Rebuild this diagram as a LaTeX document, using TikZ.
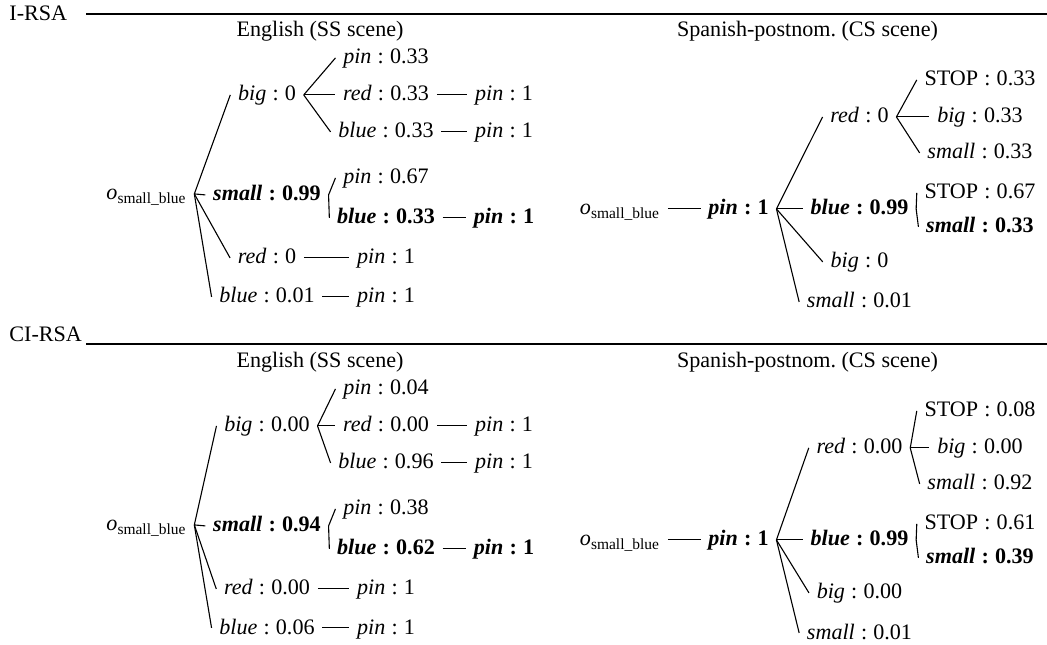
\documentclass[tikz,border=0pt]{standalone}
\usepackage{fontspec}
\setmainfont{Liberation Serif}
\newcommand\lab[2]{\textit{#1}\hspace{.28em}:\hspace{.28em}#2}
\newcommand\blab[2]{\textbf{\textit{#1}\hspace{.28em}:\hspace{.28em}#2}}
\newcommand\slab[1]{STOP\hspace{.28em}:\hspace{.28em}#1}
\newcommand\osb{\textit{o}\textsubscript{small\_blue}}
\begin{document}
\begin{tikzpicture}[x=0.4525pt,y=-0.4525pt,
  lbl/.style={anchor=base,inner sep=0.3333em,text height=0.75em,text depth=0.2em},
  conn/.style={line width=0.5pt},
  rulel/.style={line width=0.5pt}]
\useasboundingbox (0,0) rectangle (1047,645);

% ---------- section labels and rules ----------
\node[anchor=base west,inner sep=0] (irsa) at (9,21) {I-RSA};
\coordinate (ra1) at (86,14);
\coordinate (rb1) at (1047,14);
\draw[rulel] (ra1) -- (rb1);
\node[anchor=base west,inner sep=0] (cirsa) at (9,342) {CI-RSA};
\coordinate (ra2) at (86,344);
\coordinate (rb2) at (1047,344);
\draw[rulel] (ra2) -- (rb2);

% ================= I-RSA =================
\node[lbl] (aeh) at (320,37) {English (SS scene)};
\node[lbl] (ash) at (807.5,37) {Spanish-postnom.\ (CS scene)};

% English tree
\node[lbl] (ar) at (146.5,200) {\osb};
\node[lbl] (abig) at (267,101) {\lab{big}{0}};
\node[lbl] (apinA) at (386,64) {\lab{pin}{0.33}};
\node[lbl] (aredA) at (386,101) {\lab{red}{0.33}};
\node[lbl] (ablueA) at (386,138) {\lab{blue}{0.33}};
\node[lbl] (apinB) at (504,101) {\lab{pin}{1}};
\node[lbl] (apinC) at (504,138) {\lab{pin}{1}};
\node[lbl] (asmall) at (267,201) {\blab{small}{0.99}};
\node[lbl] (apinD) at (386,184) {\lab{pin}{0.67}};
\node[lbl] (ablueB) at (386,224) {\blab{blue}{0.33}};
\node[lbl] (apinE) at (504,224) {\blab{pin}{1}};
\node[lbl] (ared) at (267,264) {\lab{red}{0}};
\node[lbl] (apinF) at (386,264) {\lab{pin}{1}};
\node[lbl] (ablue) at (267,303) {\lab{blue}{0.01}};
\node[lbl] (apinG) at (386,303) {\lab{pin}{1}};
\foreach \p/\c in {ar/abig,ar/asmall,ar/ared,ar/ablue,abig/apinA,abig/aredA,abig/ablueA,
  aredA/apinB,ablueA/apinC,asmall/apinD,asmall/ablueB,ablueB/apinE,ared/apinF,ablue/apinG}
  \draw[conn] (\p.east) -- (\c.west);

% Spanish tree
\node[lbl] (asr) at (620,215) {\osb};
\node[lbl] (aspin) at (738.5,215) {\blab{pin}{1}};
\node[lbl] (asred) at (859.5,123) {\lab{red}{0}};
\node[lbl] (asstopA) at (980,86) {\slab{0.33}};
\node[lbl] (asbigA) at (980,123) {\lab{big}{0.33}};
\node[lbl] (assmallA) at (980,159) {\lab{small}{0.33}};
\node[lbl] (asblue) at (859.5,215) {\blab{blue}{0.99}};
\node[lbl] (asstopB) at (980,199) {\slab{0.67}};
\node[lbl] (assmallB) at (980,233) {\blab{small}{0.33}};
\node[lbl] (asbig) at (859.5,268) {\lab{big}{0}};
\node[lbl] (assmall) at (859.5,308) {\lab{small}{0.01}};
\foreach \p/\c in {asr/aspin,aspin/asred,aspin/asblue,aspin/asbig,aspin/assmall,
  asred/asstopA,asred/asbigA,asred/assmallA,asblue/asstopB,asblue/assmallB}
  \draw[conn] (\p.east) -- (\c.west);

% ================= CI-RSA =================
\begin{scope}[shift={(0,331)}]
\node[lbl] (beh) at (320,37) {English (SS scene)};
\node[lbl] (bsh) at (807.5,37) {Spanish-postnom.\ (CS scene)};

\node[lbl] (br) at (146.5,200) {\osb};
\node[lbl] (bbig) at (267,101) {\lab{big}{0.00}};
\node[lbl] (bpinA) at (386,64) {\lab{pin}{0.04}};
\node[lbl] (bredA) at (386,101) {\lab{red}{0.00}};
\node[lbl] (bblueA) at (386,138) {\lab{blue}{0.96}};
\node[lbl] (bpinB) at (504,101) {\lab{pin}{1}};
\node[lbl] (bpinC) at (504,138) {\lab{pin}{1}};
\node[lbl] (bsmall) at (267,201) {\blab{small}{0.94}};
\node[lbl] (bpinD) at (386,184) {\lab{pin}{0.38}};
\node[lbl] (bblueB) at (386,224) {\blab{blue}{0.62}};
\node[lbl] (bpinE) at (504,224) {\blab{pin}{1}};
\node[lbl] (bred) at (267,264) {\lab{red}{0.00}};
\node[lbl] (bpinF) at (386,264) {\lab{pin}{1}};
\node[lbl] (bblue) at (267,303) {\lab{blue}{0.06}};
\node[lbl] (bpinG) at (386,303) {\lab{pin}{1}};
\foreach \p/\c in {br/bbig,br/bsmall,br/bred,br/bblue,bbig/bpinA,bbig/bredA,bbig/bblueA,
  bredA/bpinB,bblueA/bpinC,bsmall/bpinD,bsmall/bblueB,bblueB/bpinE,bred/bpinF,bblue/bpinG}
  \draw[conn] (\p.east) -- (\c.west);

\node[lbl] (bsr) at (620,215) {\osb};
\node[lbl] (bspin) at (738.5,215) {\blab{pin}{1}};
\node[lbl] (bsred) at (859.5,123) {\lab{red}{0.00}};
\node[lbl] (bsstopA) at (980,86) {\slab{0.08}};
\node[lbl] (bsbigA) at (980,123) {\lab{big}{0.00}};
\node[lbl] (bssmallA) at (980,159) {\lab{small}{0.92}};
\node[lbl] (bsblue) at (859.5,215) {\blab{blue}{0.99}};
\node[lbl] (bsstopB) at (980,199) {\slab{0.61}};
\node[lbl] (bssmallB) at (980,233) {\blab{small}{0.39}};
\node[lbl] (bsbig) at (859.5,268) {\lab{big}{0.00}};
\node[lbl] (bssmall) at (859.5,308) {\lab{small}{0.01}};
\foreach \p/\c in {bsr/bspin,bspin/bsred,bspin/bsblue,bspin/bsbig,bspin/bssmall,
  bsred/bsstopA,bsred/bsbigA,bsred/bssmallA,bsblue/bsstopB,bsblue/bssmallB}
  \draw[conn] (\p.east) -- (\c.west);
\end{scope}
\end{tikzpicture}
\end{document}
